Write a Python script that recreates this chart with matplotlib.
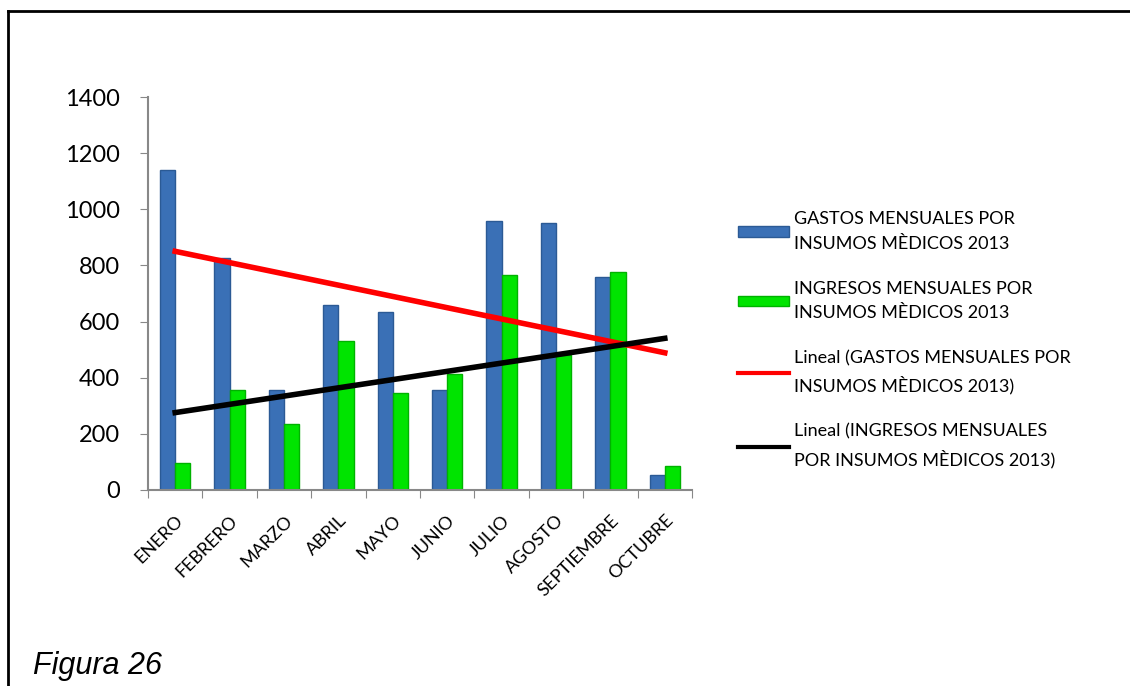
import matplotlib.pyplot as plt
import matplotlib.transforms as mtransforms
import numpy as np
from matplotlib.lines import Line2D

months = ["ENERO", "FEBRERO", "MARZO", "ABRIL", "MAYO", "JUNIO",
          "JULIO", "AGOSTO", "SEPTIEMBRE", "OCTUBRE"]
gastos = [1140, 825, 355, 660, 635, 355, 960, 950, 760, 55]
ingresos = [95, 355, 235, 530, 345, 415, 765, 480, 775, 85]

lbl_gastos = "GASTOS MENSUALES POR\nINSUMOS MÈDICOS 2013"
lbl_ingresos = "INGRESOS MENSUALES POR\nINSUMOS MÈDICOS 2013"
lbl_tr_gastos = "Lineal (GASTOS MENSUALES POR\nINSUMOS MÈDICOS 2013)"
lbl_tr_ingresos = "Lineal (INGRESOS MENSUALES\nPOR INSUMOS MÈDICOS 2013)"

plt.rcParams["font.family"] = ["Lato", "DejaVu Sans"]

fig = plt.figure(figsize=(11.3, 6.86), dpi=100)
ax = fig.add_axes([148 / 1130, 1 - 490 / 686, 544 / 1130, 393 / 686])

x = np.arange(len(months))
w = 0.28
ax.bar(x - w / 2, gastos, w, color="#3A70B6", edgecolor="#2B5A95",
       linewidth=1, label=lbl_gastos, zorder=2)
ax.bar(x + w / 2, ingresos, w, color="#00E400", edgecolor="#00B200",
       linewidth=1, label=lbl_ingresos, zorder=2)

# linear trend lines (least squares, like Excel's "Lineal")
p1 = np.polyfit(x, gastos, 1)
p2 = np.polyfit(x, ingresos, 1)
ax.plot(x, np.polyval(p1, x), color="#FF0000", lw=4, zorder=3)
ax.plot(x, np.polyval(p2, x), color="black", lw=4, zorder=3)

ax.set_xlim(-0.5, len(months) - 0.5)
ax.set_ylim(0, 1400)
ax.set_yticks(range(0, 1401, 200))
ax.set_xticks(np.arange(-0.5, len(months), 1), minor=False)
ax.set_xticklabels([])
ax.set_xticks(x, minor=True)
ax.set_xticklabels(months, minor=True, rotation=45, ha="right",
                   rotation_mode="anchor", fontsize=13)
shift = mtransforms.ScaledTranslation(-12 / 100, 0, fig.dpi_scale_trans)
for t in ax.get_xticklabels(minor=True):
    t.set_transform(t.get_transform() + shift)
ax.tick_params(axis="x", which="minor", length=0, pad=16)
ax.tick_params(axis="x", which="major", length=6, color="#888888")
ax.tick_params(axis="y", length=6, color="#888888", labelsize=17, pad=14)
for s in ["top", "right"]:
    ax.spines[s].set_visible(False)
for s in ["left", "bottom"]:
    ax.spines[s].set_color("#888888")
    ax.spines[s].set_linewidth(1.5)

handles = [
    plt.Rectangle((0, 0), 1, 1, facecolor="#3A70B6", edgecolor="#2B5A95"),
    plt.Rectangle((0, 0), 1, 1, facecolor="#00E400", edgecolor="#00B200"),
    Line2D([], [], color="#FF0000", lw=3),
    Line2D([], [], color="black", lw=3),
]
leg = fig.legend(handles, [lbl_gastos, lbl_ingresos, lbl_tr_gastos, lbl_tr_ingresos],
                 loc="upper left", bbox_to_anchor=(722 / 1130, 1 - 195 / 686),
                 frameon=False, fontsize=13, handlelength=2.8, handleheight=0.5,
                 handletextpad=0.3, labelspacing=1.6)
for t in leg.get_texts():
    t.set_linespacing(1.65)

# border on top and left
fig.add_artist(Line2D([8 / 1130, 1], [1 - 11 / 686, 1 - 11 / 686],
                      color="black", lw=2, transform=fig.transFigure))
fig.add_artist(Line2D([8 / 1130, 8 / 1130], [0, 1 - 11 / 686],
                      color="black", lw=2, transform=fig.transFigure))

fig.text(33 / 1130, 1 - 674 / 686, "Figura 26", fontsize=22,
         style="italic", family="Liberation Sans", va="baseline")

fig.savefig("out.png", dpi=100, facecolor="white")
